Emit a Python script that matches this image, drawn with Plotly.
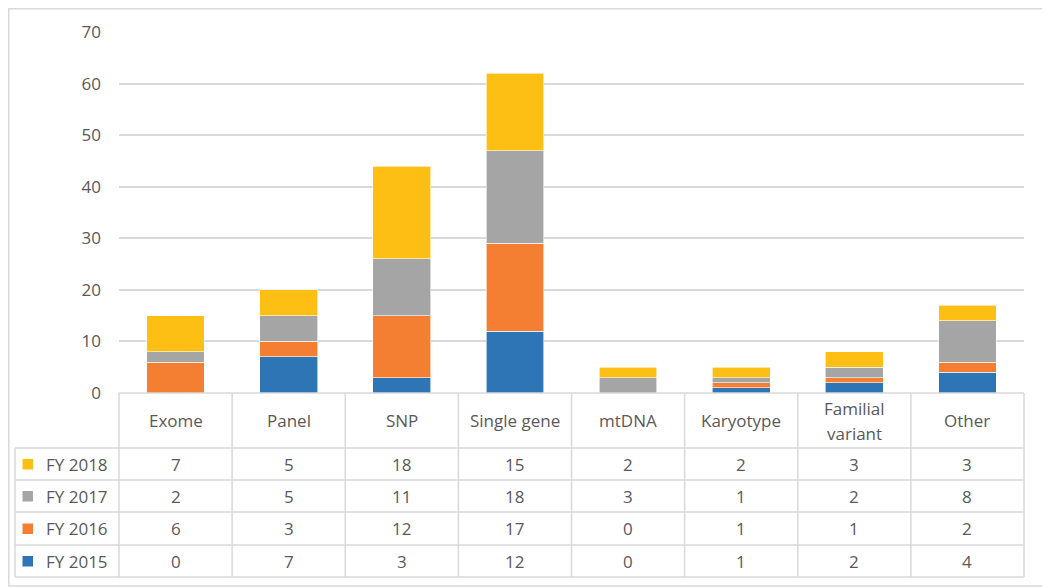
import plotly.graph_objects as go

categories = ["Exome", "Panel", "SNP", "Single gene", "mtDNA", "Karyotype", "Familial variant", "Other"]
header_labels = ["Exome", "Panel", "SNP", "Single gene", "mtDNA", "Karyotype", "Familial<br>variant", "Other"]
fy2015 = [0, 7, 3, 12, 0, 1, 2, 4]
fy2016 = [6, 3, 12, 17, 0, 1, 1, 2]
fy2017 = [2, 5, 11, 18, 3, 1, 2, 8]
fy2018 = [7, 5, 18, 15, 2, 2, 3, 3]

series = [
    ("FY 2015", fy2015, "#2E75B6"),
    ("FY 2016", fy2016, "#F47F33"),
    ("FY 2017", fy2017, "#A5A5A5"),
    ("FY 2018", fy2018, "#FDBF14"),
]

# the page body has an 8px margin, so the figure sits 8px in from the window edge
OFF = 8
W, H = 1050 - OFF, 588 - OFF
L, R, T, B = 119, 1024, 32, 393  # plot area in window pixels
GRID = "#d9d9d9"
TXT = "#595959"
FONT = "Open Sans"
FS = 17


def px(x):
    return (x - L) / (R - L)


def py(y):
    return (B - y) / (B - T)


fig = go.Figure()
for name, vals, color in series:
    fig.add_trace(go.Bar(x=categories, y=vals, name=name, marker_color=color,
                         marker_line=dict(color="white", width=0.6), showlegend=False))

shapes = []
annotations = []
col_w = (R - L) / len(categories)
row_y = [448, 480, 512, 545, 577]


def line(x0, y0, x1, y1):
    shapes.append(dict(type="line", xref="paper", yref="paper", x0=px(x0), x1=px(x1),
                       y0=py(y0), y1=py(y1), line=dict(color=GRID, width=1.5)))


def label(x, y, text, xanchor="center"):
    annotations.append(dict(xref="paper", yref="paper", x=px(x), y=py(y), text=text,
                            xanchor=xanchor, yanchor="middle", showarrow=False,
                            font=dict(family=FONT, size=FS, color=TXT)))


# outer frame
shapes.append(dict(type="rect", xref="paper", yref="paper", x0=px(OFF + 0.8), x1=px(1047),
                   y0=py(586), y1=py(OFF + 0.8), line=dict(color=GRID, width=1.5)))
# table grid
for yy in row_y:
    line(15, yy, R, yy)
line(L, B, R, B)
line(15, 448, 15, 577)
for k in range(len(categories) + 1):
    xx = L + k * col_w
    line(xx, B, xx, 577)

# header labels (two-line labels get Excel-like line spacing)
for k, lab in enumerate(header_labels):
    parts = lab.split("<br>")
    y0 = 420.5 - 12.5 * (len(parts) - 1)
    for j, part in enumerate(parts):
        label(L + (k + 0.5) * col_w, y0 + 25 * j, part)

# data rows (top row = FY 2018)
for r, (name, vals, color) in enumerate(reversed(series)):
    yc = (row_y[r] + row_y[r + 1]) / 2
    shapes.append(dict(type="rect", xref="paper", yref="paper", x0=px(22.5), x1=px(33),
                       y0=py(yc + 5.5), y1=py(yc - 5), fillcolor=color, line=dict(width=0)))
    label(44, yc, name, xanchor="left")
    for k, v in enumerate(vals):
        label(L + (k + 0.5) * col_w, yc, str(v))

fig.update_layout(
    width=W, height=H,
    barmode="stack", bargap=0.49,
    plot_bgcolor="white", paper_bgcolor="white",
    margin=dict(l=L - OFF, r=W - (R - OFF), t=T - OFF, b=H - (B - OFF)),
    font=dict(family=FONT, size=FS, color=TXT),
    xaxis=dict(showticklabels=False, showgrid=False, zeroline=False, showline=False,
               ticks=""),
    yaxis=dict(range=[0, 70], dtick=10, showgrid=True, gridcolor=GRID, gridwidth=1.5,
               zeroline=False, showline=False, ticks="", ticklabelstandoff=17,
               tickfont=dict(family=FONT, size=FS, color=TXT)),
    shapes=shapes, annotations=annotations,
)

fig.write_html("out.html")
